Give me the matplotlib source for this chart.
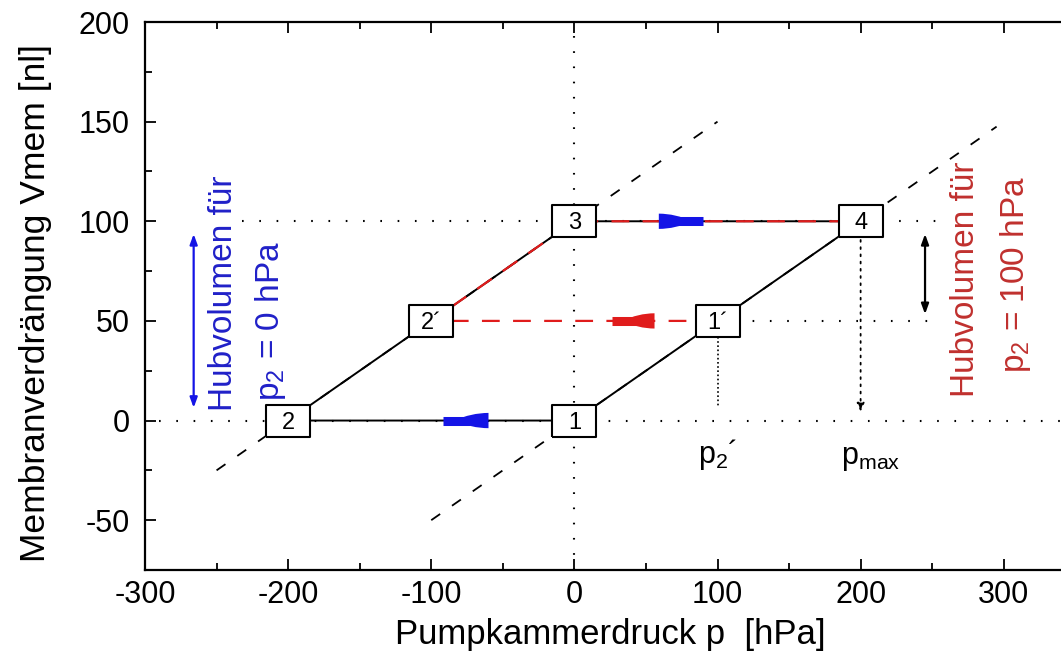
import numpy as np
import matplotlib
matplotlib.use('Agg')
import matplotlib.pyplot as plt
from matplotlib.ticker import MultipleLocator

plt.rcParams['font.family'] = ['Liberation Sans', 'DejaVu Sans']
plt.rcParams['axes.unicode_minus'] = False

# Zustandspunkte des Kreisprozesses
state_labels = ['1', '2', '2\u00b4', '3', '4', '1\u00b4']
state_p = [0, -200, -100, 0, 200, 100]
state_v = [0, 0, 50, 100, 100, 50]

# Zyklus p2 = 0 hPa: 1 -> 2 -> 2' -> 3 -> 4 -> 1' -> 1
cycle0_p = [0, -200, -100, 0, 200, 100, 0]
cycle0_v = [0, 0, 50, 100, 100, 50, 0]

# Zyklus p2 = 100 hPa (rot gestrichelt): 1' -> 2' -> 3 -> 4
cycle100_p = [100, -100, 0, 200]
cycle100_v = [50, 50, 100, 100]

# Kennlinien (gestrichelt, Steigung 0.5 nl/hPa)
line_a_p = [-250, 100]
line_a_v = [-25, 150]
line_b_p = [-100, 295]
line_b_v = [-50, 147.5]

blue = '#1414e6'
red = '#e01c1c'
dred = '#c0302e'

fig = plt.figure(figsize=(10.61, 6.6), dpi=100)
ax = fig.add_axes([145 / 1061, 1 - 570 / 660, 1 - 145 / 1061, 548 / 660])

ax.set_xlim(-300, 340)
ax.set_ylim(-75, 200)
ax.spines['right'].set_visible(False)
for s in ['left', 'bottom', 'top']:
    ax.spines[s].set_linewidth(1.6)
ax.xaxis.set_major_locator(MultipleLocator(100))
ax.xaxis.set_minor_locator(MultipleLocator(50))
ax.yaxis.set_major_locator(MultipleLocator(50))
ax.yaxis.set_minor_locator(MultipleLocator(25))
ax.tick_params(which='both', direction='in', top=True, right=False, width=1.3)
ax.tick_params(which='major', length=8, labelsize=22)
ax.tick_params(which='minor', length=5)
ax.tick_params(axis='x', which='major', pad=7)
ax.tick_params(axis='y', which='major', pad=11)

ax.set_xlabel('Pumpkammerdruck p  [hPa]', fontsize=25)
ax.set_ylabel('Membranverdrängung Vmem [nl]', fontsize=25.5)
ax.xaxis.set_label_coords(0.508, -0.088)
ax.yaxis.set_label_coords(-0.102, 0.487)

dot = (0, (0.8, 7.5))
# gepunktete Hilfslinien
ax.axvline(0, color='black', lw=1.5, ls=(0, (0.8, 6.5)), zorder=1)
ax.plot([-290, 340], [0, 0], color='black', lw=1.5, ls=dot, zorder=1)
ax.plot([-232, 253], [100, 100], color='black', lw=1.5, ls=dot, zorder=1)
ax.plot([100, 254], [50, 50], color='black', lw=1.5, ls=dot, zorder=1)
ax.plot([100, 100], [42, 7], color='black', lw=1.2, ls=(0, (1, 1.5)), zorder=1)
ax.annotate('', xy=(200, 3), xytext=(200, 92),
            arrowprops=dict(arrowstyle='-|>,head_length=0.5,head_width=0.22',
                            color='black', lw=1.3, ls=(0, (1, 3))))

# Kennlinien
ax.plot(line_a_p, line_a_v, color='black', lw=1.3, ls=(0, (6, 8)), zorder=2)
ax.plot(line_b_p, line_b_v, color='black', lw=1.3, ls=(0, (6, 8)), zorder=2)

# Kreisprozesse
ax.plot(cycle0_p, cycle0_v, color='black', lw=1.4, zorder=3)
ax.plot(cycle100_p, cycle100_v, color=red, lw=1.6, ls=(0, (8, 6)), zorder=3)


# Richtungspfeile: schmaler Balken + breiter Keil
def flow_arrow(x_narrow, x_wide, y, color):
    L = x_wide - x_narrow
    ax.plot([x_narrow, x_narrow + 0.6 * L], [y, y], color=color, lw=6.5,
            solid_capstyle='butt', zorder=4)
    ax.annotate('', xy=(x_narrow + 0.25 * L, y), xytext=(x_wide, y),
                arrowprops=dict(arrowstyle='wedge,tail_width=0.55,shrink_factor=0.75',
                                mutation_scale=20, color=color, lw=0,
                                shrinkA=0, shrinkB=0), zorder=4)


flow_arrow(-92, -60, 0, blue)
flow_arrow(90, 59, 100, blue)
flow_arrow(26, 56, 50, red)

# Zustandskästchen
box = [(-1.4, -1), (1.4, -1), (1.4, 1), (-1.4, 1), (-1.4, -1)]
ax.plot(state_p, state_v, ls='none', marker=box, ms=32, mfc='white',
        mec='black', mew=1.5, zorder=5)
for lab, p, v in zip(state_labels, state_p, state_v):
    ax.text(p, v - 1, lab, ha='center', va='center', fontsize=17, zorder=6)

# Hubvolumen-Pfeile
ax.annotate('', xy=(-266, 5), xytext=(-266, 95),
            arrowprops=dict(arrowstyle='<|-|>,head_length=0.6,head_width=0.22',
                            color=blue, lw=1.6))
ax.annotate('', xy=(245, 52), xytext=(245, 95),
            arrowprops=dict(arrowstyle='<|-|>,head_length=0.6,head_width=0.22',
                            color='black', lw=1.6))

ax.text(-245, 5, 'Hubvolumen für', rotation=90, ha='center', va='bottom',
        color='#2020c8', fontsize=24)
ax.text(-212, 10, 'p$_\\mathregular{2}$ = 0 hPa', rotation=90, ha='center',
        va='bottom', color='#2020c8', fontsize=24)
ax.text(273, 12, 'Hubvolumen für', rotation=90, ha='center', va='bottom',
        color=dred, fontsize=24)
ax.text(308, 24, 'p$_\\mathregular{2}$ = 100 hPa', rotation=90, ha='center',
        va='bottom', color=dred, fontsize=24)

ax.text(100, -17, 'p$_\\mathregular{2}$\u00b4', ha='center',
        va='center', fontsize=22)
ax.text(207, -19, 'p$_\\mathregular{max}$', ha='center', va='center', fontsize=22)

fig.savefig('out.png', dpi=100)
